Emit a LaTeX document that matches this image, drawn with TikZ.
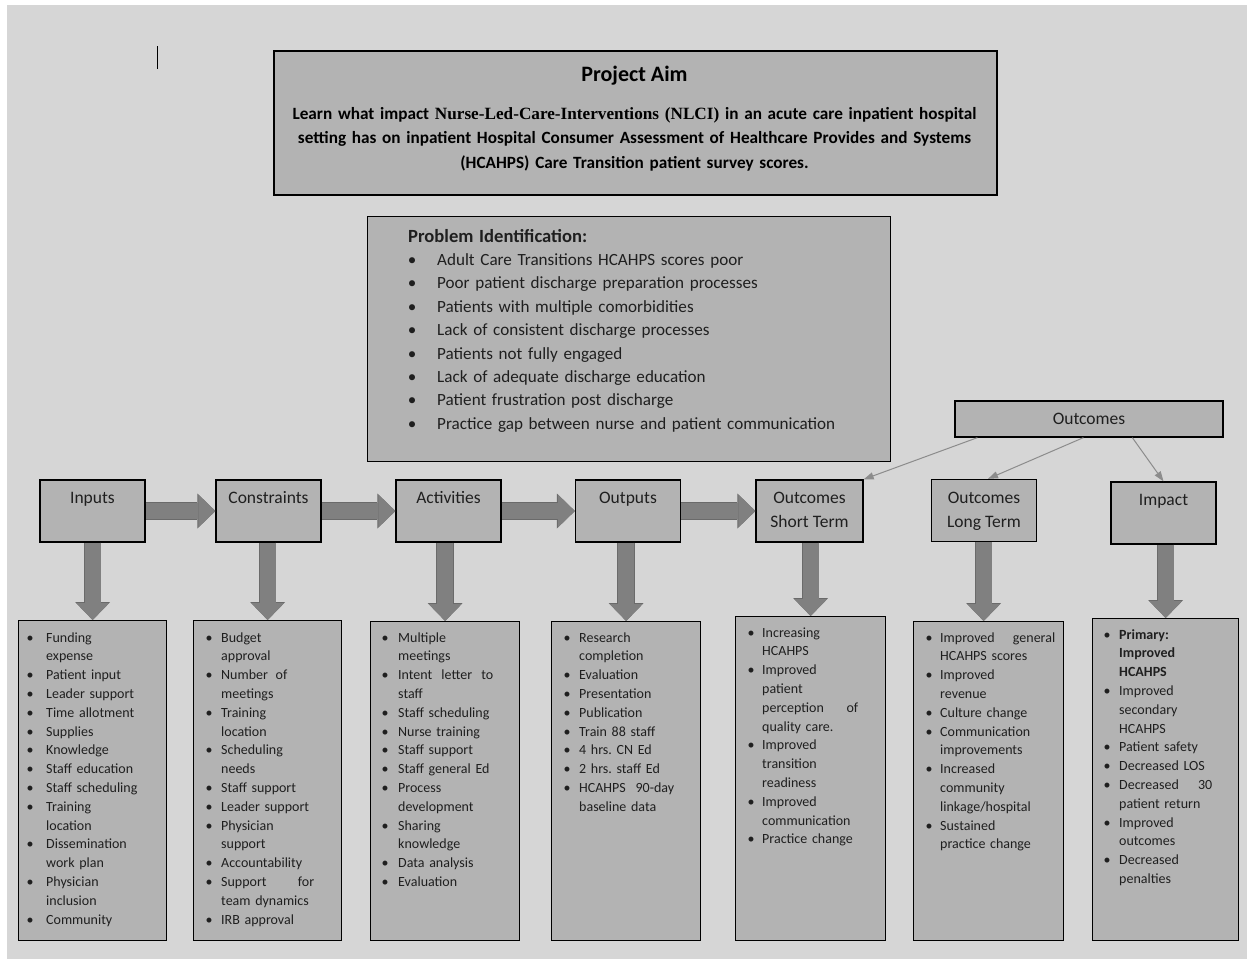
\documentclass[tikz,border=0pt]{standalone}
\usepackage{fontspec}
\setmainfont{Carlito}
\newfontfamily\timesfont{Liberation Serif}
\usepackage{tikz}
\usetikzlibrary{positioning}
\usetikzlibrary{shapes,arrows.meta}

\definecolor{bggray}{HTML}{D6D6D6}
\definecolor{boxgray}{HTML}{B3B3B3}
\definecolor{arrowgray}{HTML}{808080}
\definecolor{arrowedge}{HTML}{6A6A6A}
\definecolor{linkgray}{HTML}{8C8C8C}
\definecolor{textgray}{HTML}{1F1F1F}

\newlength{\bulc}
\newlength{\bulind}
\newcommand{\bul}[1]{\hangindent=\bulind\hangafter=1
  \makebox[\bulind][l]{\hspace*{\bulc}\makebox[0pt]{\textbullet}}#1\par}

\begin{document}
\begin{tikzpicture}[x=1pt, y=-1pt,
      box/.style={draw=black, line width=1.3pt, fill=boxgray, inner sep=0pt},
      headbox/.style={box, minimum width=105pt, minimum height=62pt, align=center,
        text=textgray, font=\fontsize{17.5}{24}\selectfont},
      listbox/.style={box, anchor=north west},
      listtext/.style 2 args={inner sep=0pt, anchor=base west, text=textgray,
        font=\fontsize{14}{18.8}\selectfont,
        execute at begin node={\setlength{\bulc}{#1}\setlength{\bulind}{#2}}},
      bigarrow/.style={draw=arrowgray, line width=16pt,
        -{Triangle[length=17pt, width=33pt, line width=0pt]},
        preaction={draw=arrowedge, line width=17.6pt,
          -{Triangle[length=18pt, width=35pt, line width=0pt]}}},
      thinarrow/.style={draw=linkgray, line width=1pt, -{Triangle[length=10pt, width=7pt]}}
    ]
    \useasboundingbox (0,0) rectangle (1247,959);
    \fill[bggray] (7,5) rectangle (1247,959);
    \draw[line width=1pt] (157,46) -- (157,69);

    \node[box, line width=1.5pt, minimum width=723pt, minimum height=144pt, anchor=north west] (aim) at (273,50) {};
    \node[inner sep=0pt, anchor=base, font=\fontsize{22}{26}\selectfont\bfseries] (aimtitle) at (634.5,81) {Project Aim};
    \node[inner sep=0pt, anchor=base, text width=720pt, align=center,
      font=\fontsize{17.2}{24.5}\selectfont\bfseries] (aimtext) at (634.5,119) {Learn what impact
      {\timesfont Nurse-Led-Care-Interventions (NLCI)} in an acute care inpatient hospital\\
      setting has on inpatient Hospital Consumer Assessment of Healthcare Provides and Systems\\
      (HCAHPS) Care Transition patient survey scores.};

    \node[box, minimum width=523pt, minimum height=245pt, anchor=north west] (prob) at (367,216) {};
    \node[listtext={4pt}{29pt}, text width=470pt, font=\fontsize{17.1}{23.4}\selectfont] (probtext) at (408,242) {%
      {\fontsize{18.6}{23.4}\selectfont\bfseries Problem Identification:}\par
      \bul{Adult Care Transitions HCAHPS scores poor}
      \bul{Poor patient discharge preparation processes}
      \bul{Patients with multiple comorbidities}
      \bul{Lack of consistent discharge processes}
      \bul{Patients not fully engaged}
      \bul{Lack of adequate discharge education}
      \bul{Patient frustration post discharge}
      \bul{Practice gap between nurse and patient communication}};

    \node[box, minimum width=268pt, minimum height=36pt, text=textgray,
      font=\fontsize{17.5}{21}\selectfont] (outc) at (1089,419) {Outcomes};

    \node[headbox] (inputs) at (92.5,511) {\strut Inputs\\\strut};
    \node[headbox] (constraints) at (268.5,511) {\strut Constraints\\\strut};
    \node[headbox] (activities) at (448.5,511) {\strut Activities\\\strut};
    \node[headbox] (outputs) at (628,511) {\strut Outputs\\\strut};
    \node[headbox, minimum width=107pt] (short) at (809.5,511) {\strut Outcomes\\\strut Short Term};
    \node[headbox] (long) at (984,510.5) {\strut Outcomes\\\strut Long Term};
    \node[headbox] (impact) at (1163.5,513) {\strut Impact\\\strut};

    \node[listbox, minimum width=148pt, minimum height=320pt] (inlist) at (18,620) {};
    \node[listtext={12pt}{28pt}, text width=121pt] (intext) at (18,642) {%
      \bul{Funding\newline expense}
      \bul{Patient input}
      \bul{Leader support}
      \bul{Time allotment}
      \bul{Supplies}
      \bul{Knowledge}
      \bul{Staff education}
      \bul{Staff scheduling}
      \bul{Training\newline location}
      \bul{Dissemination\newline work plan}
      \bul{Physician\newline inclusion}
      \bul{Community}};

    \node[listbox, minimum width=148pt, minimum height=320pt] (conlist) at (193,620) {};
    \node[listtext={16pt}{28pt}, text width=121pt] (context) at (193,642) {%
      \bul{Budget\newline approval}
      \bul{Number\hspace{3pt} of\newline meetings}
      \bul{Training\newline location}
      \bul{Scheduling\newline needs}
      \bul{Staff support}
      \bul{Leader support}
      \bul{Physician\newline support}
      \bul{Accountability}
      \bul{Support\hfill for\newline team dynamics}
      \bul{IRB approval}};

    \node[listbox, minimum width=149pt, minimum height=319pt] (actlist) at (370,621) {};
    \node[listtext={15pt}{28pt}, text width=123pt] (acttext) at (370,642) {%
      \bul{Multiple\newline meetings}
      \bul{Intent\hfill letter\hfill to\newline staff}
      \bul{Staff scheduling}
      \bul{Nurse training}
      \bul{Staff support}
      \bul{Staff general Ed}
      \bul{Process\newline development}
      \bul{Sharing\newline knowledge}
      \bul{Data analysis}
      \bul{Evaluation}};

    \node[listbox, minimum width=149pt, minimum height=319pt] (outlist) at (551,621) {};
    \node[listtext={16pt}{28pt}, text width=123pt] (outtext) at (551,642) {%
      \bul{Research\newline completion}
      \bul{Evaluation}
      \bul{Presentation}
      \bul{Publication}
      \bul{Train 88 staff}
      \bul{4 hrs.\ CN Ed}
      \bul{2 hrs.\ staff Ed}
      \bul{HCAHPS\hfill 90-day\newline baseline data}};

    \node[listbox, minimum width=150pt, minimum height=324pt] (shortlist) at (735,616) {};
    \node[listtext={16pt}{27pt}, text width=123pt] (shorttext) at (735,637) {%
      \bul{Increasing\newline HCAHPS}
      \bul{Improved\newline patient\newline perception\hfill of\newline quality care.}
      \bul{Improved\newline transition\newline readiness}
      \bul{Improved\newline communication}
      \bul{Practice change}};

    \node[listbox, minimum width=150pt, minimum height=319pt] (longlist) at (913,621) {};
    \node[listtext={16pt}{27pt}, text width=142pt] (longtext) at (913,642) {%
      \bul{Improved\hfill general\newline HCAHPS scores}
      \bul{Improved\newline revenue}
      \bul{Culture change}
      \bul{Communication\newline improvements}
      \bul{Increased\newline community\newline linkage/hospital}
      \bul{Sustained\newline practice change}};

    \node[listbox, minimum width=146pt, minimum height=322pt] (implist) at (1092,618) {};
    \node[listtext={15pt}{27pt}, text width=120pt] (imptext) at (1092,639) {%
      \bul{\textbf{Primary:\newline Improved\newline HCAHPS}}
      \bul{Improved\newline secondary\newline HCAHPS}
      \bul{Patient safety}
      \bul{Decreased LOS}
      \bul{Decreased\hfill 30\newline patient return}
      \bul{Improved\newline outcomes}
      \bul{Decreased\newline penalties}};

    \draw[bigarrow] (inputs) -- (constraints);
    \draw[bigarrow] (constraints) -- (activities);
    \draw[bigarrow] (activities) -- (outputs);
    \draw[bigarrow] (outputs) -- (short);

    \draw[bigarrow] (inlist.north |- inputs.south) -- (inlist.north);
    \draw[bigarrow] (conlist.north |- constraints.south) -- (conlist.north);
    \draw[bigarrow] (actlist.north |- activities.south) -- (actlist.north);
    \draw[bigarrow] (outlist.north |- outputs.south) -- (outlist.north);
    \draw[bigarrow] (shortlist.north |- short.south) -- (shortlist.north);
    \draw[bigarrow] ([xshift=-5pt]longlist.north |- long.south) -- ([xshift=-5pt]longlist.north);
    \draw[bigarrow] (implist.north |- impact.south) -- (implist.north);

    \draw[thinarrow] ([xshift=23pt]outc.south west) -- (short.north east);
    \draw[thinarrow] ([xshift=129pt]outc.south west) -- ([xshift=4pt]long.north);
    \draw[thinarrow] ([xshift=178pt]outc.south west) -- (impact.north);
\end{tikzpicture}
\end{document}
